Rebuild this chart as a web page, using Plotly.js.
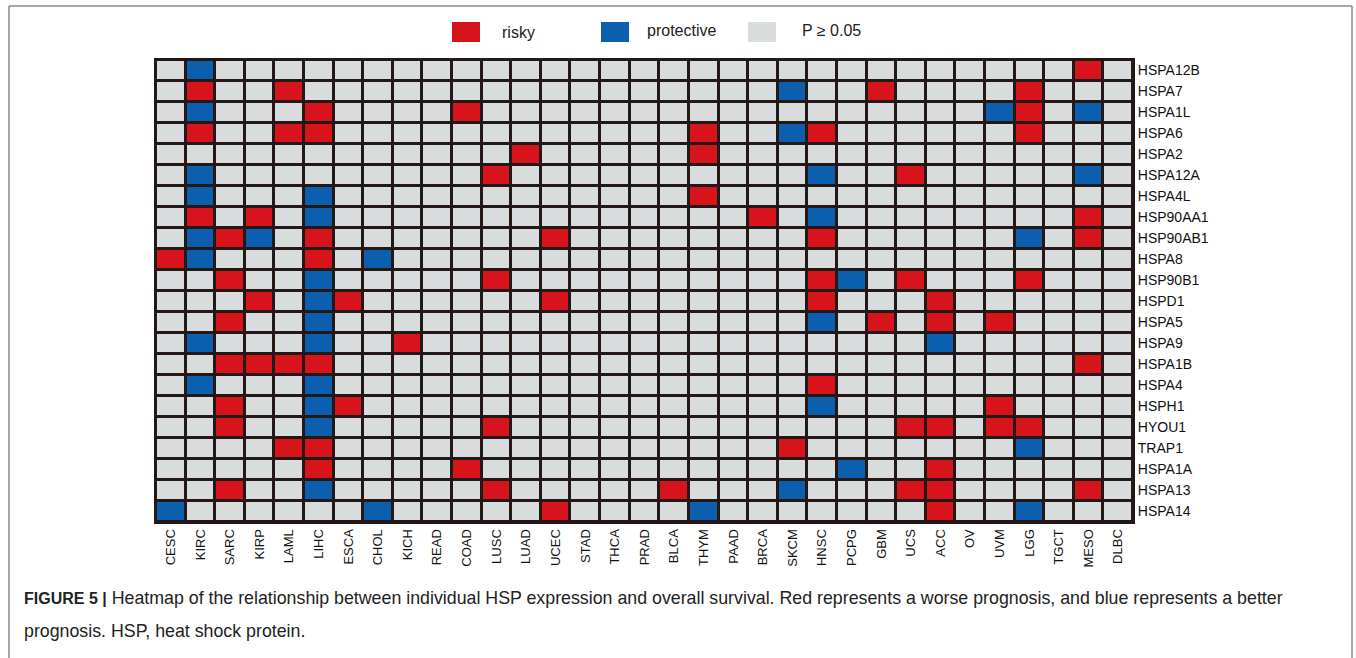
<!DOCTYPE html>
<html>
<head>
<meta charset="utf-8">
<script src="https://cdn.plot.ly/plotly-3.0.1.min.js"></script>
<style>
  html, body { margin: 0; padding: 0; background: #ffffff; }
  #chart { width: 1356px; height: 658px; }
</style>
</head>
<body>
<div id="chart"></div>
<script>
// ---- data ----
const cancers = ['CESC','KIRC','SARC','KIRP','LAML','LIHC','ESCA','CHOL','KICH','READ',
                 'COAD','LUSC','LUAD','UCEC','STAD','THCA','PRAD','BLCA','THYM','PAAD',
                 'BRCA','SKCM','HNSC','PCPG','GBM','UCS','ACC','OV','UVM','LGG',
                 'TGCT','MESO','DLBC'];
const genes = ['HSPA12B','HSPA7','HSPA1L','HSPA6','HSPA2','HSPA12A','HSPA4L','HSP90AA1',
               'HSP90AB1','HSPA8','HSP90B1','HSPD1','HSPA5','HSPA9','HSPA1B','HSPA4',
               'HSPH1','HYOU1','TRAP1','HSPA1A','HSPA13','HSPA14'];
// 1 = risky, -1 = protective, 0 = P >= 0.05
const survivalStatus = [
  [0,-1,0,0,0,0,0,0,0,0, 0,0,0,0,0,0,0,0,0,0, 0,0,0,0,0,0,0,0,0,0, 0,1,0],
  [0,1,0,0,1,0,0,0,0,0, 0,0,0,0,0,0,0,0,0,0, 0,-1,0,0,1,0,0,0,0,1, 0,0,0],
  [0,-1,0,0,0,1,0,0,0,0, 1,0,0,0,0,0,0,0,0,0, 0,0,0,0,0,0,0,0,-1,1, 0,-1,0],
  [0,1,0,0,1,1,0,0,0,0, 0,0,0,0,0,0,0,0,1,0, 0,-1,1,0,0,0,0,0,0,1, 0,0,0],
  [0,0,0,0,0,0,0,0,0,0, 0,0,1,0,0,0,0,0,1,0, 0,0,0,0,0,0,0,0,0,0, 0,0,0],
  [0,-1,0,0,0,0,0,0,0,0, 0,1,0,0,0,0,0,0,0,0, 0,0,-1,0,0,1,0,0,0,0, 0,-1,0],
  [0,-1,0,0,0,-1,0,0,0,0, 0,0,0,0,0,0,0,0,1,0, 0,0,0,0,0,0,0,0,0,0, 0,0,0],
  [0,1,0,1,0,-1,0,0,0,0, 0,0,0,0,0,0,0,0,0,0, 1,0,-1,0,0,0,0,0,0,0, 0,1,0],
  [0,-1,1,-1,0,1,0,0,0,0, 0,0,0,1,0,0,0,0,0,0, 0,0,1,0,0,0,0,0,0,-1, 0,1,0],
  [1,-1,0,0,0,1,0,-1,0,0, 0,0,0,0,0,0,0,0,0,0, 0,0,0,0,0,0,0,0,0,0, 0,0,0],
  [0,0,1,0,0,-1,0,0,0,0, 0,1,0,0,0,0,0,0,0,0, 0,0,1,-1,0,1,0,0,0,1, 0,0,0],
  [0,0,0,1,0,-1,1,0,0,0, 0,0,0,1,0,0,0,0,0,0, 0,0,1,0,0,0,1,0,0,0, 0,0,0],
  [0,0,1,0,0,-1,0,0,0,0, 0,0,0,0,0,0,0,0,0,0, 0,0,-1,0,1,0,1,0,1,0, 0,0,0],
  [0,-1,0,0,0,-1,0,0,1,0, 0,0,0,0,0,0,0,0,0,0, 0,0,0,0,0,0,-1,0,0,0, 0,0,0],
  [0,0,1,1,1,1,0,0,0,0, 0,0,0,0,0,0,0,0,0,0, 0,0,0,0,0,0,0,0,0,0, 0,1,0],
  [0,-1,0,0,0,-1,0,0,0,0, 0,0,0,0,0,0,0,0,0,0, 0,0,1,0,0,0,0,0,0,0, 0,0,0],
  [0,0,1,0,0,-1,1,0,0,0, 0,0,0,0,0,0,0,0,0,0, 0,0,-1,0,0,0,0,0,1,0, 0,0,0],
  [0,0,1,0,0,-1,0,0,0,0, 0,1,0,0,0,0,0,0,0,0, 0,0,0,0,0,1,1,0,1,1, 0,0,0],
  [0,0,0,0,1,1,0,0,0,0, 0,0,0,0,0,0,0,0,0,0, 0,1,0,0,0,0,0,0,0,-1, 0,0,0],
  [0,0,0,0,0,1,0,0,0,0, 1,0,0,0,0,0,0,0,0,0, 0,0,0,-1,0,0,1,0,0,0, 0,0,0],
  [0,0,1,0,0,-1,0,0,0,0, 0,1,0,0,0,0,0,1,0,0, 0,-1,0,0,0,1,1,0,0,0, 0,1,0],
  [-1,0,0,0,0,0,0,-1,0,0, 0,0,0,1,0,0,0,0,-1,0, 0,0,0,0,0,0,1,0,0,-1, 0,0,0]
];
const legendLabels = ['risky', 'protective', 'P \u2265 0.05'];
const captionLabel = 'FIGURE 5 |';
const captionLine1 = 'Heatmap of the relationship between individual HSP expression and overall survival. Red represents a worse prognosis, and blue represents a better';
const captionLine2 = 'prognosis. HSP, heat shock protein.';

// ---- style ----
const RED = '#d7141b', BLUE = '#0b5fae', GREY = '#d8dcdc', GRID = '#231815';
const legendColors = [RED, BLUE, GREY];
const W = 1356, H = 658;
const M = {l: 156, r: 223, t: 60, b: 136};
const PW = W - M.l - M.r, PH = H - M.t - M.b;
const px = x => (x - M.l) / PW;
const py = y => 1 - (y - M.t) / PH;
const FONT = 'Liberation Sans, Arial, sans-serif';

const trace = {
  type: 'heatmap',
  x: cancers,
  y: genes,
  z: survivalStatus,
  zmin: -1, zmax: 1,
  colorscale: [[0, BLUE], [0.333, BLUE], [0.334, GREY], [0.666, GREY], [0.667, RED], [1, RED]],
  showscale: false,
  xgap: 3, ygap: 3,
  hoverinfo: 'x+y+z'
};

const shapes = [];
const annotations = [];
// outer frame of the figure
shapes.push({type: 'line', xref: 'paper', yref: 'paper', x0: px(9), x1: px(1352), y0: py(6), y1: py(6), line: {color: '#8a8a8a', width: 1.5}});
shapes.push({type: 'line', xref: 'paper', yref: 'paper', x0: px(9), x1: px(9), y0: py(6), y1: py(660), line: {color: '#8a8a8a', width: 1.5}});
shapes.push({type: 'line', xref: 'paper', yref: 'paper', x0: px(1352), x1: px(1352), y0: py(6), y1: py(660), line: {color: '#8a8a8a', width: 1.5}});

// legend
const keyX = [452, 601, 748];
const textX = [500, 645, 800];
legendLabels.forEach((lab, i) => {
  shapes.push({type: 'rect', xref: 'paper', yref: 'paper',
    x0: px(keyX[i]), x1: px(keyX[i] + 28), y0: py(22), y1: py(42),
    line: {width: 0}, fillcolor: legendColors[i]});
  annotations.push({xref: 'paper', yref: 'paper', x: px(textX[i]), y: py(i === 0 ? 33 : 31),
    xanchor: 'left', yanchor: 'middle', showarrow: false, text: lab,
    font: {family: FONT, size: 16, color: '#222'}});
});

// caption
annotations.push({xref: 'paper', yref: 'paper', x: px(22), y: py(598), xanchor: 'left', yanchor: 'middle',
  showarrow: false, align: 'left',
  text: '<b><span style="font-size:16px">' + captionLabel + '</span></b> ' + captionLine1,
  font: {family: FONT, size: 17.8, color: '#222'}});
annotations.push({xref: 'paper', yref: 'paper', x: px(22), y: py(631), xanchor: 'left', yanchor: 'middle',
  showarrow: false, align: 'left', text: captionLine2,
  font: {family: FONT, size: 17.8, color: '#222'}});

const layout = {
  width: W, height: H,
  margin: M,
  paper_bgcolor: '#ffffff',
  plot_bgcolor: GRID,
  font: {family: FONT, size: 13, color: '#111'},
  xaxis: {
    type: 'category', tickangle: -90, ticks: '', showgrid: false, zeroline: false,
    showline: true, mirror: true, linecolor: GRID, linewidth: 2,
    tickfont: {size: 13}, fixedrange: true
  },
  yaxis: {
    type: 'category', autorange: 'reversed', side: 'right', ticks: '', showgrid: false, zeroline: false,
    showline: true, mirror: true, linecolor: GRID, linewidth: 2,
    tickfont: {size: 14}, fixedrange: true
  },
  shapes: shapes,
  annotations: annotations,
  showlegend: false
};

Plotly.newPlot('chart', [trace], layout, {displayModeBar: false, staticPlot: true});
</script>
</body>
</html>
